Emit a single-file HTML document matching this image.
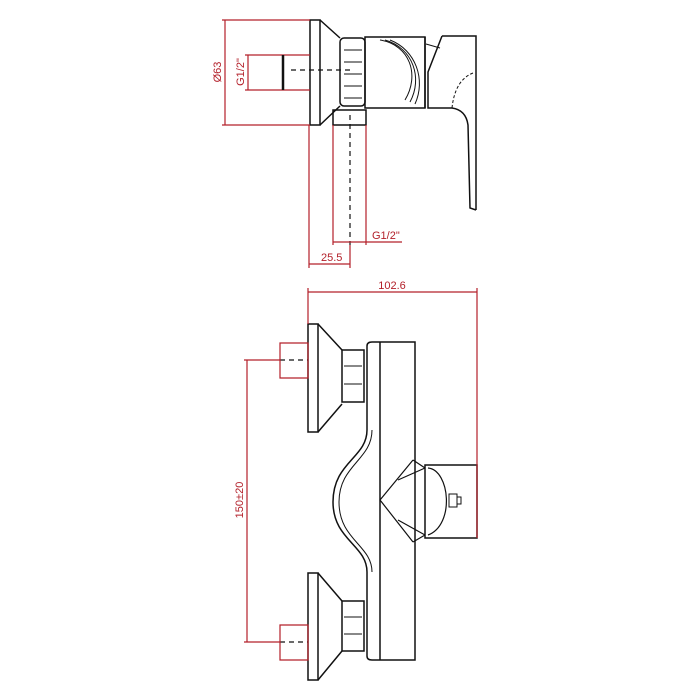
<!DOCTYPE html>
<html><head><style>body{margin:0;background:#fff}svg{display:block}</style></head><body>
<svg width="700" height="700" viewBox="0 0 700 700" xmlns="http://www.w3.org/2000/svg" font-family="Liberation Sans, sans-serif">
<g fill="none" stroke="#111" stroke-width="1.5">
<!-- TOP VIEW -->
<rect x="310" y="20" width="10" height="105"/>
<path d="M320 20 L340 38 M320 125 L340 106"/>
<rect x="340" y="38" width="25" height="68" rx="4"/>
<path d="M344 50H362M344 62H362M344 74H362M344 86H362M344 98H362" stroke-width="1"/>
<rect x="365" y="37" width="60" height="71"/>
<path d="M380 40 C410 45 420 75 405 100" stroke-width="1"/>
<path d="M385 40 C413 48 423 78 410 102" stroke-width="1"/>
<path d="M390 40 C416 50 426 80 415 104" stroke-width="1"/>
<path d="M425 37 L425 108 M442 36 L476 36 L476 210 M442 36 L428 72 L428 108 L452 108 Q466 110 468 125 L470 208 L476 210"/>
<path d="M452 108 Q455 80 473 73" stroke-width="1" stroke-dasharray="3 2"/>
<path d="M426 44 L440 48" stroke-width="1"/>
<rect x="333" y="110" width="33" height="15"/>
<path d="M350 70 H290 M350 115 V245" stroke-dasharray="5 4" stroke-width="1.2"/>
<!-- BOTTOM VIEW -->
<rect x="308" y="324" width="10" height="108"/>
<path d="M318 324 L342 350 M318 432 L342 404"/>
<rect x="342" y="350" width="22" height="52"/>
<path d="M344 366H362M344 384H362" stroke-width="1"/>
<rect x="308" y="573" width="10" height="107"/>
<path d="M318 573 L342 601 M318 680 L342 651"/>
<rect x="342" y="601" width="22" height="50"/>
<path d="M344 617H362M344 634H362" stroke-width="1"/>
<path d="M367 346 Q367 342 372 342 L415 342 L415 660 L372 660 Q367 660 367 656 L367 572 C367 545 333 540 333 502 C333 462 367 458 367 430 Z"/>
<path d="M372 430 C372 460 339 465 339 502 C339 540 372 545 372 572" stroke-width="1"/>
<path d="M380 342 V660"/>
<path d="M413 460 L380 500 L413 542 M413 460 L425 468 M413 542 L425 535 M398 480 L425 468 M398 520 L425 535" stroke-width="1.2"/>
<rect x="425" y="465" width="52" height="73"/>
<path d="M428 468 C450 470 455 525 428 535" stroke-width="1.2"/>
<rect x="449" y="494" width="8" height="13" stroke-width="1"/>
<path d="M457 497 h4 v7 h-4" stroke-width="1"/>
<path d="M280 360 H308 M280 642 H308" stroke-dasharray="5 4" stroke-width="1.2"/>
</g>
<g fill="none" stroke="#b3202a" stroke-width="1.2">
<!-- top dims -->
<path d="M222 20 H310 M222 125 H310 M225 20 V125"/>
<path d="M245 55 H310 M245 90 H310 M248 55 V90"/>
<path d="M283 55 V90" stroke="#111" stroke-width="2.5"/>
<path d="M333 125 V245 M366 125 V245 M333 242 H402"/>
<path d="M309 125 V268 M350 245 V268 M309 264 H350"/>
<!-- bottom dims -->
<path d="M308 292 H477 M308 288 V324 M477 288 V538"/>
<path d="M244 360 H280 M244 642 H280 M247 360 V642"/>
<path d="M280 343 H308 V378 H280 Z M280 625 H308 V660 H280 Z"/>
</g>
<g fill="#b3202a" font-size="11">
<text x="0" y="0" transform="translate(221 72) rotate(-90)" text-anchor="middle">Ø63</text>
<text x="0" y="0" transform="translate(244 72) rotate(-90)" text-anchor="middle">G1/2"</text>
<text x="372" y="239">G1/2"</text>
<text x="321" y="261">25.5</text>
<text x="392" y="289" text-anchor="middle">102.6</text>
<text x="0" y="0" transform="translate(243 500) rotate(-90)" text-anchor="middle">150±20</text>
</g>
</svg>
</body></html>
